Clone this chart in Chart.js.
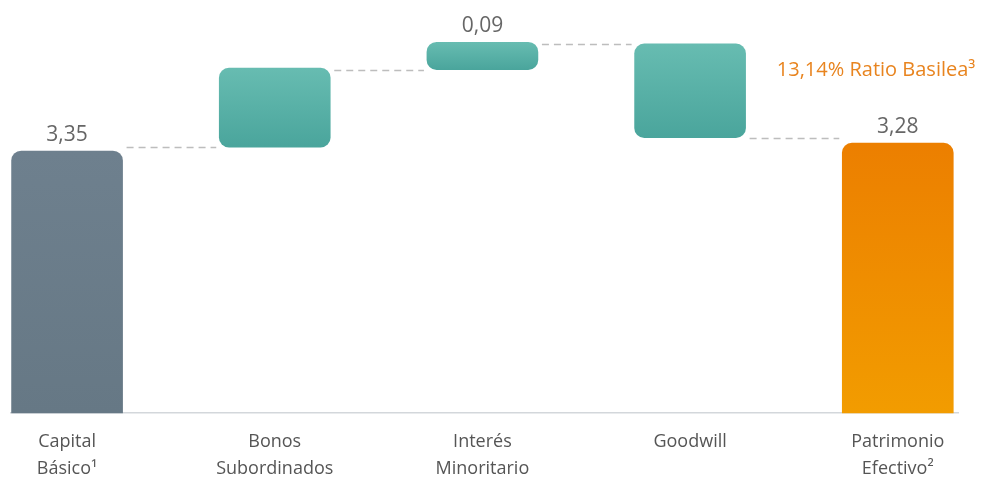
<!DOCTYPE html>
<html>
<head>
<meta charset="utf-8">
<script src="https://cdn.jsdelivr.net/npm/chart.js@4"></script>
<style>
  html, body { margin: 0; padding: 0; background: #ffffff; }
  #wrap { width: 982px; height: 478px; }
</style>
</head>
<body>
<div id="wrap"><canvas id="capitalChart"></canvas></div>
<script>
// Categorias y tramos de cada barra (inicio / fin)
const categorias = [
    ['Capital', 'Básico¹'],
    ['Bonos', 'Subordinados'],
    ['Interés', 'Minoritario'],
    ['Goodwill'],
    ['Patrimonio', 'Efectivo²']
];
const inicio = [0, 3.40, 4.39, 4.72, 0];
const fin = [3.35, 4.41, 4.74, 3.52, 3.45];
const etiquetas = ['3,35', '', '0,09', '', '3,28'];
const ratioTexto = '13,14% Ratio Basilea³';

// Colores (arriba / abajo) para el degradado de cada barra
const colorArriba = ['#6e808e', '#67bcb1', '#67bcb1', '#67bcb1', '#ec7f00'];
const colorAbajo = ['#667885', '#4aa59c', '#4aa59c', '#4aa59c', '#f29c00'];

const fuente = '"Open Sans", "DejaVu Sans", sans-serif';

function degradado(ctx) {
    const chart = ctx.chart;
    const i = ctx.dataIndex;
    const y = chart.scales.y;
    if (!chart.chartArea || !y || i === undefined) return colorArriba[i] || '#999';
    const top = y.getPixelForValue(Math.max(inicio[i], fin[i]));
    const bottom = y.getPixelForValue(Math.min(inicio[i], fin[i]));
    const g = chart.ctx.createLinearGradient(0, top, 0, bottom);
    g.addColorStop(0, colorArriba[i]);
    g.addColorStop(1, colorAbajo[i]);
    return g;
}

// Lineas punteadas entre barras y textos de valores
const waterfallExtras = {
    id: 'waterfallExtras',
    beforeDatasetsDraw(chart) {
        const c = chart.ctx;
        const meta = chart.getDatasetMeta(0);
        const y = chart.scales.y;
        c.save();
        c.strokeStyle = '#bdbdbd';
        c.lineWidth = 1.5;
        c.setLineDash([7, 5]);
        for (let i = 0; i < meta.data.length - 1; i++) {
            const a = meta.data[i];
            const b = meta.data[i + 1];
            const nivel = inicio[i + 1] !== 0 ? inicio[i + 1] : fin[i];
            const py = Math.round(y.getPixelForValue(nivel)) + 0.5;
            c.beginPath();
            c.moveTo(a.x + a.width / 2 + 4, py);
            c.lineTo(b.x - b.width / 2 - 3, py);
            c.stroke();
        }
        c.restore();
    },
    afterDatasetsDraw(chart) {
        const c = chart.ctx;
        const meta = chart.getDatasetMeta(0);
        c.save();
        c.textAlign = 'center';
        c.textBaseline = 'alphabetic';
        c.font = '21px ' + fuente;
        c.fillStyle = '#666666';
        meta.data.forEach((el, i) => {
            if (!etiquetas[i]) return;
            const top = Math.min(el.y, el.base);
            c.fillText(etiquetas[i], el.x, top - 10);
        });
        const last = meta.data[meta.data.length - 1];
        c.textAlign = 'right';
        c.font = '20px ' + fuente;
        c.fillStyle = '#e8841f';
        c.fillText(ratioTexto, last.x + last.width / 2 + 22, Math.min(last.y, last.base) - 67);
        c.restore();
    }
};

const ctx = document.getElementById('capitalChart').getContext('2d');
const capitalChart = new Chart(ctx, {
    type: 'bar',
    data: {
        datasets: [{
            data: categorias.map((c, i) => ({ x: i, y: [inicio[i], fin[i]] })),
            backgroundColor: degradado,
            borderWidth: 0,
            borderRadius: 10,
            borderSkipped: (ctx) => (inicio[ctx.dataIndex] === 0 ? 'start' : false),
            barThickness: 111,
            clip: false
        }]
    },
    options: {
        responsive: true,
        maintainAspectRatio: false,
        animation: false,
        layout: { padding: { left: 11, right: 24, top: 0, bottom: 0 } },
        plugins: {
            legend: { display: false },
            tooltip: { enabled: false }
        },
        scales: {
            x: {
                type: 'linear',
                offset: false,
                min: -0.27,
                max: 4.29,
                afterBuildTicks: (scale) => {
                    scale.ticks = categorias.map((c, i) => ({ value: i }));
                },
                afterFit: (scale) => {
                    scale.height = 65;
                },
                grid: { display: false, drawTicks: false, offset: false },
                border: { display: true, color: '#d3d7db', width: 1.5 },
                ticks: {
                    autoSkip: false,
                    maxRotation: 0,
                    padding: 15,
                    color: '#555555',
                    font: { family: fuente, size: 18, lineHeight: 1.5 },
                    callback: (value) => categorias[value]
                }
            },
            y: {
                display: false,
                min: 0,
                max: 5.28
            }
        }
    },
    plugins: [waterfallExtras]
});
</script>
</body>
</html>
